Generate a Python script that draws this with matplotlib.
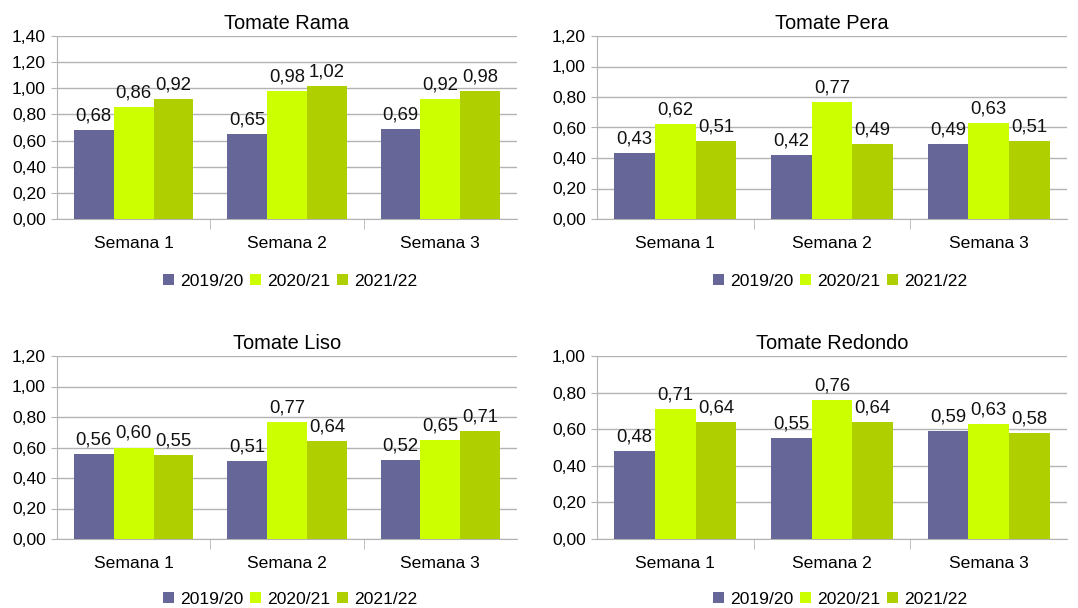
import matplotlib
matplotlib.use("Agg")
import matplotlib.pyplot as plt
import numpy as np

plt.rcParams['font.family'] = ['Liberation Sans', 'DejaVu Sans']

categories = ["Semana 1", "Semana 2", "Semana 3"]
series_names = ["2019/20", "2020/21", "2021/22"]
colors = ["#666699", "#ccff00", "#b0cf00"]

titles = ["Tomate Rama", "Tomate Pera", "Tomate Liso", "Tomate Redondo"]
rama = [[0.68, 0.65, 0.69], [0.86, 0.98, 0.92], [0.92, 1.02, 0.98]]
pera = [[0.43, 0.42, 0.49], [0.62, 0.77, 0.63], [0.51, 0.49, 0.51]]
liso = [[0.56, 0.51, 0.52], [0.60, 0.77, 0.65], [0.55, 0.64, 0.71]]
redondo = [[0.48, 0.55, 0.59], [0.71, 0.76, 0.63], [0.64, 0.64, 0.58]]
datasets = [rama, pera, liso, redondo]
ymaxes = [1.40, 1.20, 1.20, 1.00]

W, H = 1078, 608
fig = plt.figure(figsize=(W / 100, H / 100), dpi=100)

# pixel boxes: (left, top, right, bottom)
boxes = [(57, 36, 517, 219), (597, 36, 1067, 219),
         (57, 356, 517, 539), (597, 356, 1067, 539)]
legend_centers = [(290, 281), (840, 281), (290, 599), (840, 599)]

grid_c = "#b3b3b3"
bw = 0.26
fs = 12.6
for i, (title, data, ymax, box) in enumerate(zip(titles, datasets, ymaxes, boxes)):
    l, t, r, b = box
    ax = fig.add_axes([l / W, 1 - b / H, (r - l) / W, (b - t) / H])
    x = np.arange(len(categories))
    for j, (name, vals, c) in enumerate(zip(series_names, data, colors)):
        bars = ax.bar(x + (j - 1) * bw, vals, bw, color=c, label=name, zorder=3)
        for rect, v in zip(bars, vals):
            ax.annotate(f"{v:.2f}".replace(".", ","),
                        (rect.get_x() + rect.get_width() / 2, v),
                        xytext=(0, 4), textcoords="offset points",
                        ha="center", va="bottom", fontsize=13.3, color="#111111",
                        zorder=4)
    ax.set_xlim(-0.5, 2.5)
    ax.set_ylim(0, ymax)
    yt = np.arange(0, ymax + 1e-9, 0.2)
    ax.set_yticks(yt)
    ax.set_yticklabels([f"{v:.2f}".replace(".", ",") for v in yt], fontsize=fs)
    ax.set_xticks(x)
    ax.set_xticklabels(categories, fontsize=fs)
    ax.tick_params(axis="x", length=0, pad=12)
    ax.set_xticks([0.5, 1.5], minor=True)
    ax.tick_params(axis="x", which="minor", length=7, color=grid_c)
    ax.tick_params(axis="y", length=4, color=grid_c, pad=4)
    ax.grid(axis="y", color=grid_c, linewidth=1, zorder=0)
    for s in ["top", "right"]:
        ax.spines[s].set_visible(False)
    ax.spines["left"].set_color(grid_c)
    ax.spines["bottom"].set_color(grid_c)
    ax.set_title(title, fontsize=14.4, pad=5)
    cx, cy = legend_centers[i]
    ax.legend(loc="center", bbox_to_anchor=(cx / W, 1 - cy / H),
              bbox_transform=fig.transFigure, ncol=3, borderpad=0,
              frameon=False, fontsize=fs, handlelength=0.62, handleheight=0.62,
              handletextpad=0.35, columnspacing=0.4)

fig.savefig("out.png", dpi=100, facecolor="white")
